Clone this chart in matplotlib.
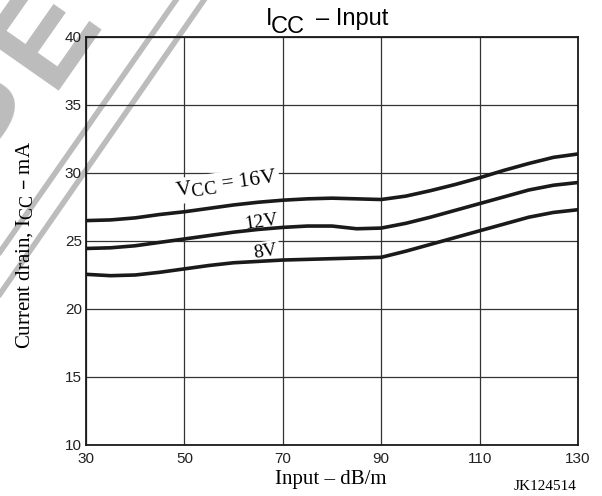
import matplotlib
matplotlib.use("Agg")
import matplotlib.pyplot as plt
import matplotlib._mathtext as mathtext_mod
from matplotlib.lines import Line2D

plt.rcParams["font.family"] = ["Liberation Sans", "DejaVu Sans"]
# 下标 CC 在原图里几乎和正文一样大
mathtext_mod.SHRINK_FACTOR = 0.86

# 数据
input_db = [30, 35, 40, 45, 50, 55, 60, 65, 70, 75, 80, 85, 90, 95, 100, 105, 110, 115, 120, 125, 130]
icc_16v = [26.5, 26.55, 26.7, 26.95, 27.15, 27.4, 27.65, 27.85, 28.0, 28.1, 28.15, 28.1, 28.05, 28.3, 28.7, 29.15, 29.65, 30.2, 30.7, 31.15, 31.4]
icc_12v = [24.45, 24.5, 24.65, 24.9, 25.15, 25.4, 25.65, 25.85, 26.0, 26.1, 26.1, 25.9, 25.95, 26.3, 26.75, 27.25, 27.75, 28.25, 28.75, 29.1, 29.3]
icc_8v = [22.55, 22.45, 22.5, 22.7, 22.95, 23.2, 23.4, 23.5, 23.6, 23.65, 23.7, 23.75, 23.8, 24.25, 24.75, 25.25, 25.75, 26.25, 26.75, 27.1, 27.3]
curve_labels = [r"V$_{\mathregular{CC}}$ = 16V", "12V", "8V"]
label_pos = [(69.0, 29.3), (69.1, 26.2), (69.1, 24.0)]
label_size = [15.5, 14, 14]
x_ticks = [30, 50, 70, 90, 110, 130]
y_ticks = [10, 15, 20, 25, 30, 35, 40]

W, H = 602, 496
fig = plt.figure(figsize=(W / 100, H / 100), dpi=100)

def fx(x):
	return x / W

def fy(y):
	return 1 - y / H

# 水印 (灰色斜线和字母), 放在最底层
wm = "#bcbcbc"
fig.add_artist(Line2D([fx(176), fx(0)], [fy(0), fy(252)], color=wm, lw=4, zorder=-1))
fig.add_artist(Line2D([fx(204), fx(0)], [fy(0), fy(294)], color=wm, lw=4, zorder=-1))
fig.text(fx(-24), fy(166), "S", fontsize=96, fontweight="bold", color=wm, rotation=55,
         rotation_mode="anchor", ha="left", va="baseline", zorder=-1)
fig.text(fx(50), fy(91), "E", fontsize=96, fontweight="bold", color=wm, rotation=55,
         rotation_mode="anchor", ha="left", va="baseline", zorder=-1)

ax = fig.add_axes([fx(86), fy(445), (578 - 86) / W, (445 - 37) / H])
ax.set_facecolor("none")

for vals in [icc_16v, icc_12v, icc_8v]:
	ax.plot(input_db, vals, color="#1a1a1a", lw=2.6, solid_joinstyle="round", zorder=3)

serif = ["Liberation Serif", "DejaVu Serif"]
for lab, (lx, ly), fs in zip(curve_labels, label_pos, label_size):
	ax.text(lx, ly, lab, family=serif, fontsize=fs, rotation=8, rotation_mode="anchor",
	        ha="right", va="baseline", zorder=2.5,
	        bbox=dict(boxstyle="square,pad=0.1", fc="white", ec="none"))

ax.set_xlim(30, 130)
ax.set_ylim(10, 40)
ax.set_xticks(x_ticks)
ax.set_yticks(y_ticks)
ax.tick_params(length=0, labelsize=11, colors="#222222")
ax.tick_params(axis="x", pad=5)
ax.tick_params(axis="y", pad=3)
ax.grid(True, color="#333333", lw=0.9, zorder=1)
ax.set_axisbelow(True)
for s in ax.spines.values():
	s.set_linewidth(1.3)
	s.set_color("#1a1a1a")

# 标题: I 和 CC 同样大小, CC 下移
fig.text(fx(266), fy(25), "I", fontsize=17, ha="left", va="baseline")
fig.text(fx(271), fy(33), "CC", fontsize=17, ha="left", va="baseline")
fig.text(fx(316), fy(25), "\u2013 Input", fontsize=17, ha="left", va="baseline")

# 坐标轴标题
fig.text(fx(331), fy(484), "Input \u2013 dB/m", family=serif, fontsize=15, ha="center", va="baseline")
fig.text(fx(30), fy(245), "Current drain, I$_{\\mathregular{CC}}$ \u2013 mA",
         family=serif, fontsize=15, rotation=90, rotation_mode="anchor", ha="center", va="baseline")
fig.text(fx(577), fy(490), "JK124514", family=serif, fontsize=11, ha="right", va="baseline")

fig.savefig("out.png", dpi=100)
